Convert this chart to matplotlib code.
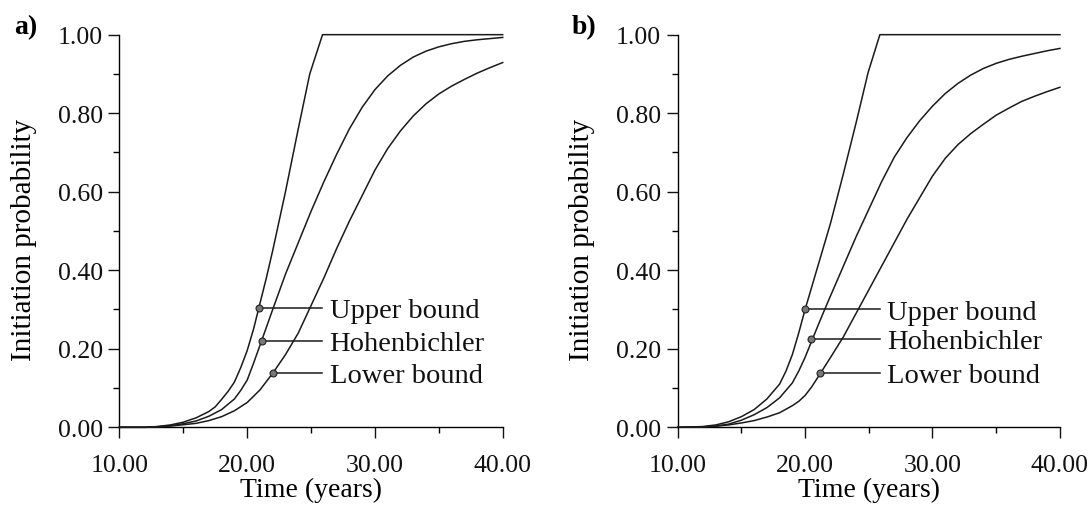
import matplotlib
matplotlib.use("Agg")
import matplotlib.pyplot as plt
from matplotlib.ticker import MultipleLocator, FormatStrFormatter

plt.rcParams['font.family'] = ['Liberation Serif', 'DejaVu Serif']

# ---- panel a) values ----
a_upper_t = [10, 12, 13, 14, 15, 16, 17, 17.5, 18, 18.5, 19, 19.5, 20, 20.5, 21, 21.5, 22, 23, 24,
             24.9, 25.9, 40]
a_upper_p = [0.0, 0.0, 0.002, 0.006, 0.013, 0.024, 0.04, 0.052, 0.071, 0.091, 0.115, 0.152, 0.195,
             0.25, 0.315, 0.38, 0.45, 0.60, 0.76, 0.90, 1.0, 1.0]

a_hohen_t = [10, 12, 13, 14, 15, 16, 17, 18, 19, 19.5, 20, 20.5, 21.14, 22, 23, 24, 25, 26, 27, 28,
             29, 30, 31, 32, 33, 34, 35, 36, 37, 38, 39, 40]
a_hohen_p = [0.0, 0.0, 0.001, 0.004, 0.009, 0.016, 0.028, 0.045, 0.072, 0.094, 0.12, 0.163, 0.221,
             0.30, 0.39, 0.47, 0.55, 0.625, 0.695, 0.76, 0.815, 0.86, 0.895, 0.922, 0.943, 0.958,
             0.969, 0.977, 0.983, 0.987, 0.990, 0.993]

a_lower_t = [10, 12, 14, 16, 17, 18, 19, 20, 21, 22, 23, 24, 25, 26, 27, 28, 29, 30, 31, 32, 33,
             34, 35, 36, 37, 38, 39, 40]
a_lower_p = [0.0, 0.0, 0.003, 0.010, 0.017, 0.027, 0.042, 0.063, 0.095, 0.1375, 0.185, 0.24, 0.31,
             0.38, 0.455, 0.525, 0.59, 0.655, 0.71, 0.755, 0.793, 0.824, 0.849, 0.869, 0.886,
             0.902, 0.916, 0.929]

# ---- panel b) values ----
b_upper_t = [10, 11, 12, 13, 14, 15, 16, 17, 18, 18.5, 19, 19.5, 20, 21, 22, 23, 24, 24.95, 25.87, 40]
b_upper_p = [0.0, 0.0005, 0.002, 0.006, 0.014, 0.027, 0.045, 0.072, 0.11, 0.143, 0.185, 0.24, 0.30,
             0.41, 0.52, 0.645, 0.775, 0.904, 1.0, 1.0]

b_hohen_t = [10, 12, 13, 14, 15, 16, 17, 18, 19, 19.5, 20, 20.5, 21, 21.5, 22, 23, 24, 25, 26, 27,
             28, 29, 30, 31, 32, 33, 34, 35, 36, 37, 38, 39, 40]
b_hohen_p = [0.0, 0.001, 0.003, 0.008, 0.018, 0.032, 0.05, 0.075, 0.113, 0.143, 0.178, 0.218, 0.258,
             0.297, 0.335, 0.41, 0.485, 0.555, 0.625, 0.688, 0.738, 0.781, 0.818, 0.85, 0.876,
             0.897, 0.914, 0.927, 0.937, 0.945, 0.952, 0.959, 0.965]

b_lower_t = [10, 12, 13, 14, 15, 16, 17, 18, 19, 19.5, 20, 20.5, 21, 22, 23, 24, 25, 26, 27, 28, 29,
             30, 31, 32, 33, 34, 35, 36, 37, 38, 39, 40]
b_lower_p = [0.0, 0.001, 0.003, 0.006, 0.011, 0.017, 0.026, 0.037, 0.055, 0.066, 0.081, 0.102, 0.127,
             0.178, 0.23, 0.29, 0.35, 0.41, 0.47, 0.53, 0.585, 0.64, 0.685, 0.72, 0.748, 0.772,
             0.795, 0.813, 0.83, 0.843, 0.855, 0.866]

labels = ['Upper bound', 'Hohenbichler', 'Lower bound']
# marker points (t, p) for the label leaders
a_marks = [(20.9, 0.303), (21.14, 0.221), (22.0, 0.1375)]
b_marks = [(19.98, 0.30), (20.45, 0.225), (21.2, 0.138)]
leader_end = 25.86
text_x = 26.45


def draw_panel(ax, curves, marks, tag):
    for t, p in curves:
        ax.plot(t, p, color='#1a1a1a', lw=1.1, clip_on=False, zorder=3)
    for (mt, mp), lab in zip(marks, labels):
        ax.plot([mt, leader_end], [mp, mp], color='#1a1a1a', lw=1.1, zorder=3)
        ax.plot(mt, mp, 'o', ms=5, mfc='#777777', mec='#222222', mew=0.8, zorder=4)
        ax.text(text_x, mp - 0.023, lab, fontsize=20.5, va='baseline', ha='left', color='#111111')

    ax.set_xlim(10, 40)
    ax.set_ylim(0, 1)
    ax.spines['top'].set_visible(False)
    ax.spines['right'].set_visible(False)
    ax.spines['left'].set_linewidth(1.0)
    ax.spines['bottom'].set_linewidth(1.0)
    ax.xaxis.set_major_locator(MultipleLocator(10))
    ax.xaxis.set_minor_locator(MultipleLocator(5))
    ax.yaxis.set_major_locator(MultipleLocator(0.2))
    ax.yaxis.set_minor_locator(MultipleLocator(0.1))
    ax.xaxis.set_major_formatter(FormatStrFormatter('%.2f'))
    ax.yaxis.set_major_formatter(FormatStrFormatter('%.2f'))
    ax.tick_params(axis='both', which='major', direction='out', length=8, width=1.0,
                   labelsize=18.5, colors='#111111')
    ax.tick_params(axis='both', which='minor', direction='out', length=4.5, width=1.0)
    ax.tick_params(axis='x', which='major', pad=11)
    ax.tick_params(axis='y', which='major', pad=4)
    ax.set_xlabel('Time (years)', fontsize=20, labelpad=1)
    ax.set_ylabel('Initiation probability', fontsize=21)
    ax.yaxis.set_label_coords(-0.215, 0.48)
    ax.text(-0.245, 1.02, tag, transform=ax.transAxes, fontsize=20, fontweight='bold',
            ha='center', va='center')


fig = plt.figure(figsize=(10.9, 5.06), dpi=100)
ax_a = fig.add_axes([0.1095, 0.1536, 0.3517, 0.7759])
ax_b = fig.add_axes([0.6217, 0.1536, 0.3507, 0.7759])

draw_panel(ax_a, [(a_upper_t, a_upper_p), (a_hohen_t, a_hohen_p), (a_lower_t, a_lower_p)],
           a_marks, 'a)')
draw_panel(ax_b, [(b_upper_t, b_upper_p), (b_hohen_t, b_hohen_p), (b_lower_t, b_lower_p)],
           b_marks, 'b)')

fig.savefig('out.png', dpi=100)
